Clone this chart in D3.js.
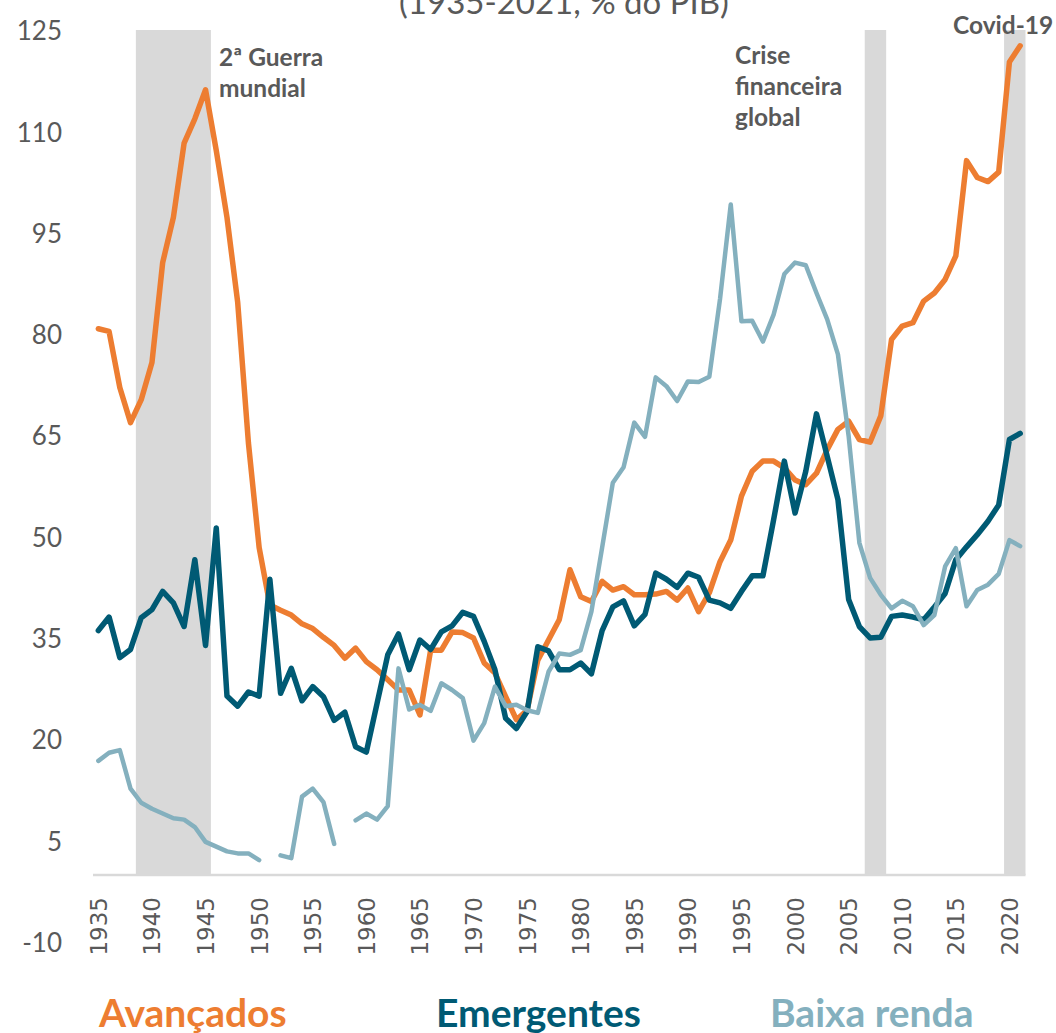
<!DOCTYPE html>
<meta charset="utf-8">
<style>

body {
  margin: 0;
  background: #fff;
}

text {
  font-family: Lato, "Open Sans", sans-serif;
}

.y-label {
  fill: #595959;
  font-size: 26px;
}

.x-label {
  fill: #595959;
  font-family: "DejaVu Sans", sans-serif;
  font-size: 23px;
}

.note {
  fill: #595959;
  font-weight: bold;
  font-size: 24.5px;
}

.legend {
  font-weight: bold;
  font-size: 39px;
}

.series {
  fill: none;
  stroke-linejoin: round;
  stroke-linecap: round;
}

</style>
<svg width="1056" height="1033"></svg>
<script src="https://d3js.org/d3.v7.min.js"></script>
<script>

var firstYear = 1935,
    lastYear = 2021;

var years = d3.range(firstYear, lastYear + 1);

var avancados = [
  80.9, 80.5, 72.2, 67.0, 70.4, 75.9, 90.7, 97.4, 108.4, 112.0,
  116.3, 107.3, 97.4, 84.8, 64.0, 48.5, 40.0, 39.2, 38.5, 37.2,
  36.5, 35.2, 34.0, 32.1, 33.6, 31.6, 30.4, 28.9, 27.4, 27.4,
  23.7, 33.3, 33.3, 36.0, 35.9, 35.1, 31.4, 29.9, 26.4, 23.0,
  24.4, 31.8, 34.8, 37.8, 45.2, 41.2, 40.5, 43.5, 42.2, 42.7,
  41.5, 41.5, 41.6, 42.0, 40.7, 42.5, 39.0, 41.8, 46.4, 49.6,
  56.1, 59.8, 61.3, 61.3, 60.3, 58.5, 57.8, 59.5, 63.0, 66.0,
  67.2, 64.5, 64.1, 68.0, 79.3, 81.3, 81.8, 85.0, 86.2, 88.2,
  91.7, 105.8, 103.3, 102.7, 104.1, 120.4, 122.8
];

var emergentes = [
  36.2, 38.2, 32.2, 33.4, 38.1, 39.3, 42.0, 40.3, 36.8, 46.7,
  34.0, 51.4, 26.5, 25.0, 27.1, 26.5, 43.8, 26.9, 30.6, 25.8,
  27.9, 26.4, 22.9, 24.1, 19.0, 18.2, 25.4, 32.6, 35.7, 30.4,
  34.8, 33.4, 36.0, 36.9, 38.9, 38.3, 34.6, 30.4, 23.2, 21.7,
  24.2, 33.8, 33.2, 30.4, 30.4, 31.4, 29.8, 36.2, 39.7, 40.6,
  36.9, 38.6, 44.7, 43.8, 42.6, 44.7, 44.1, 40.7, 40.3, 39.5,
  42.0, 44.3, 44.3, 52.6, 61.3, 53.6, 59.8, 68.3, 62.0, 55.6,
  40.8, 36.8, 35.1, 35.2, 38.3, 38.5, 38.2, 37.8, 39.7, 41.7,
  46.7, 48.6, 50.4, 52.4, 54.8, 64.5, 65.4
];

var baixaRenda = [
  16.9, 18.1, 18.5, 12.8, 10.7, 9.8, 9.1, 8.4, 8.2, 7.1,
  4.9, 4.2, 3.5, 3.2, 3.2, 2.2, null, 2.9, 2.5, 11.6,
  12.8, 10.8, 4.6, null, 8.1, 9.1, 8.2, 10.2, 30.6, 24.5,
  25.2, 24.3, 28.4, 27.4, 26.2, 19.9, 22.5, 27.9, 25.0, 25.2,
  24.4, 24.0, 30.1, 32.8, 32.6, 33.3, 39.0, 48.5, 58.1, 60.4,
  67.0, 64.9, 73.7, 72.4, 70.2, 73.1, 73.0, 73.8, 85.3, 99.3,
  82.0, 82.1, 79.0, 83.0, 89.0, 90.7, 90.3, 86.2, 82.3, 77.1,
  65.0, 49.2, 44.0, 41.5, 39.5, 40.6, 39.8, 37.0, 38.5, 45.7,
  48.4, 39.8, 42.2, 43.0, 44.6, 49.6, 48.7
];

var yTicks = [-10, 5, 20, 35, 50, 65, 80, 95, 110, 125];
var xTicks = [1935, 1940, 1945, 1950, 1955, 1960, 1965, 1970, 1975, 1980,
              1985, 1990, 1995, 2000, 2005, 2010, 2015, 2020];

// crisis periods shaded in grey
var crises = [
  {start: 1939, end: 1945},
  {start: 2007, end: 2008},
  {start: 2020, end: 2021}
];

var series = [
  {name: "Avançados", values: avancados, color: "#ED7D31", width: 5.5},
  {name: "Emergentes", values: emergentes, color: "#005A74", width: 5.5},
  {name: "Baixa renda", values: baixaRenda, color: "#84B0BE", width: 4.5}
];

var svg = d3.select("svg");

var x = d3.scalePoint()
    .domain(years)
    .range([93, 1025.5])
    .padding(0.5);

var y = d3.scaleLinear()
    .domain([-10, 125])
    .range([942.5, 31]);

var step = x.step();

svg.append("g")
  .selectAll("rect")
  .data(crises)
  .enter().append("rect")
    .attr("x", function(d) { return x(d.start) - step / 2; })
    .attr("width", function(d) { return x(d.end) - x(d.start) + step; })
    .attr("y", y(125) - 1)
    .attr("height", y(0) - y(125) + 1)
    .style("fill", "#D9D9D9");

// zero line
svg.append("line")
    .attr("x1", x.range()[0])
    .attr("x2", x.range()[1])
    .attr("y1", y(0))
    .attr("y2", y(0))
    .style("stroke", "#D9D9D9")
    .style("stroke-width", 2.5);

svg.append("g")
  .selectAll("text")
  .data(yTicks)
  .enter().append("text")
    .attr("class", "y-label")
    .attr("x", 62)
    .attr("y", function(d) { return y(d); })
    .attr("dy", "0.36em")
    .style("text-anchor", "end")
    .text(function(d) { return d; });

svg.append("g")
  .selectAll("text")
  .data(xTicks)
  .enter().append("text")
    .attr("class", "x-label")
    .attr("transform", function(d) { return "translate(" + (x(d) + 8.5) + "," + (y(0) + 22) + ") rotate(-90)"; })
    .style("text-anchor", "end")
    .text(function(d) { return d; });

var line = d3.line()
    .defined(function(d) { return d.value != null; })
    .x(function(d) { return x(d.year); })
    .y(function(d) { return y(d.value); });

svg.append("g")
  .selectAll("path")
  .data(series)
  .enter().append("path")
    .attr("class", "series")
    .attr("d", function(s) {
      return line(years.map(function(yr, i) { return {year: yr, value: s.values[i]}; }));
    })
    .style("stroke", function(s) { return s.color; })
    .style("stroke-width", function(s) { return s.width; });

// title, cut at the top of the picture
svg.append("text")
    .attr("x", 564)
    .attr("y", 14)
    .style("text-anchor", "middle")
    .style("font-size", "33px")
    .style("fill", "#595959")
    .text("(1935-2021, % do PIB)");

var notes = [
  {x: 219, y: 65.5, lines: ["2ª Guerra", "mundial"]},
  {x: 735, y: 63.5, lines: ["Crise", "financeira", "global"]},
  {x: 953, y: 33.5, lines: ["Covid-19"]}
];

notes.forEach(function(n) {
  var t = svg.append("text")
      .attr("class", "note")
      .attr("x", n.x)
      .attr("y", n.y);
  n.lines.forEach(function(l, i) {
    t.append("tspan")
        .attr("x", n.x)
        .attr("dy", i ? 31.3 : 0)
        .text(l);
  });
});

var legendX = [99, 436, 770];

svg.append("g")
  .selectAll("text")
  .data(series)
  .enter().append("text")
    .attr("class", "legend")
    .attr("x", function(d, i) { return legendX[i]; })
    .attr("y", 1027)
    .style("fill", function(d) { return d.color; })
    .text(function(d) { return d.name; });

</script>
